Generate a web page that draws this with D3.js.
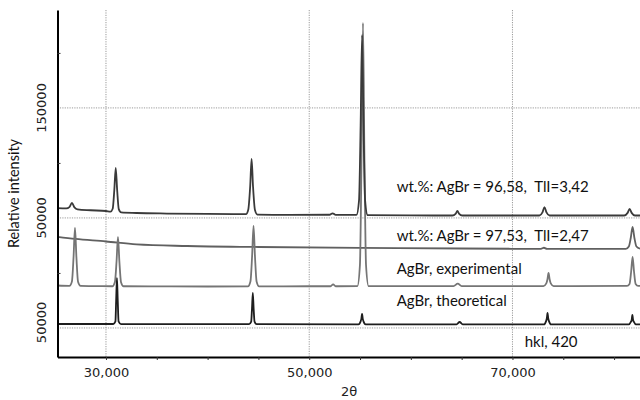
<!DOCTYPE html>
<html>
<head>
<meta charset="utf-8">
<script src="https://cdn.jsdelivr.net/npm/d3@7"></script>
<style>
  body { margin: 0; background: #fff; }
  svg { display: block; }
</style>
</head>
<body>
<div id="chart"></div>
<script>
// XRD patterns, stacked. Points are [2theta, intensity on the stacked y axis].
const sample9658 = [
  [25.23,159000],[26.1,158600],[26.4,159800],[26.65,163600],[26.9,159600],[27.2,157800],
  [28.5,157000],[30.0,156300],[30.45,155700],[30.66,158300],[30.82,175400],[30.96,195400],
  [31.1,175400],[31.26,158000],[31.5,155000],[33.0,154500],[36.0,154000],[40.0,153600],
  [43.78,153400],[44.0,157400],[44.19,178600],[44.33,203600],[44.47,178600],[44.66,157200],
  [44.9,153100],[48.0,152800],[52.0,152900],[52.3,154200],[52.6,152800],[54.65,152700],
  [54.9,165800],[55.06,234500],[55.2,316300],[55.34,234500],[55.5,165800],[55.75,152500],
  [60.0,152300],[64.1,152200],[64.4,153700],[64.58,156300],[64.76,153700],[65.05,152200],
  [72.65,152200],[72.95,155000],[73.15,159900],[73.35,155000],[73.65,152200],[81.0,152200],
  [81.33,154600],[81.53,158100],[81.73,154600],[82.05,152200],[82.55,152200]
];
const sample9753 = [
  [25.23,132700],[27.0,130900],[30.0,128600],[33.0,125900],[38.0,124500],[45.0,123600],
  [55.0,122700],[65.0,122200],[72.8,121900],[73.1,122900],[73.4,121800],[75.0,121800],
  [81.15,121800],[81.45,124000],[81.64,131800],[81.82,141800],[82.0,131800],[82.2,124000],
  [82.55,122000]
];
const agbrExperimental = [
  [25.23,88600],[26.4,88300],[26.65,92300],[26.81,114500],[26.95,140900],[27.09,114500],
  [27.25,92000],[27.5,88200],[29.0,88000],[30.63,87900],[30.88,91800],[31.04,110400],
  [31.18,132700],[31.32,110400],[31.48,91600],[31.73,87900],[36.0,87800],[40.0,87700],
  [43.97,87800],[44.22,92500],[44.38,115400],[44.52,142700],[44.66,115400],[44.82,92300],
  [45.07,87800],[50.0,87900],[52.1,87900],[52.35,89700],[52.6,87900],[54.74,88000],
  [54.99,107200],[55.15,207700],[55.29,327200],[55.43,207700],[55.59,107200],[55.84,88000],
  [60.0,88000],[64.2,88100],[64.62,90300],[65.0,88100],[73.05,88100],[73.33,90500],
  [73.44,94100],[73.55,100000],[73.66,94100],[73.77,90500],[74.05,88100],[81.27,88200],
  [81.52,90000],[81.68,101300],[81.82,114500],[81.96,101300],[82.12,90000],[82.37,88200],
  [82.55,88200]
];
const agbrTheoretical = [
  [25.23,53600],[30.72,53600],[30.93,56000],[31.0,74500],[31.08,95400],[31.16,74500],
  [31.24,56000],[31.48,53500],[44.08,53400],[44.29,55800],[44.37,67700],[44.45,81800],
  [44.53,67700],[44.62,55800],[44.82,53400],[54.85,53300],[55.06,56000],[55.13,58200],
  [55.2,62700],[55.27,58200],[55.34,56000],[55.55,53300],[64.5,53300],[64.8,55400],
  [65.1,53300],[73.1,53200],[73.3,56000],[73.38,58600],[73.45,63600],[73.52,58600],
  [73.6,56000],[73.8,53200],[81.45,53200],[81.65,55500],[81.73,57200],[81.8,61800],
  [81.87,57200],[81.95,55500],[82.15,53200],[82.55,53200]
];

const xTicks = [30, 35, 40, 45, 50, 55, 60, 65, 70, 75, 80];
const xTickLabels = ["30,000", "", "", "", "50,000", "", "", "", "70,000", "", ""];
const xGridValues = [30, 50, 70];
const yGridValues = [50000, 150000, 250000];
const yMinorTicks = [100000, 200000, 300000];
const yTickLabels = ["50000", "50000", "150000"];
const yLabelValues = [55000, 150000, 250000];

const annotationTexts = ["wt.%: AgBr = 96,58,  TlI=3,42", "wt.%: AgBr = 97,53,  TlI=2,47",
  "AgBr, experimental", "AgBr, theoretical", "hkl, 420"];
const annotationX = [58.61, 58.61, 58.61, 58.61, 71.2];
const annotationY = [173600, 129100, 99100, 70000, 32700];

(function () {
  const width = 640, height = 400;
  const left = 57.5, right = 640, top = 10, bottom = 357;

  const svg = d3.select('#chart').append('svg')
    .attr('width', width).attr('height', height);

  const x = d3.scaleLinear().domain([25.23, 82.55]).range([left, right]);
  const y = d3.scaleLinear().domain([23600, 339000]).range([bottom, top]);

  // dotted grid
  const grid = svg.append('g').attr('stroke', '#9a9a9a').attr('stroke-width', 1)
    .attr('stroke-dasharray', '1.2,1.2').attr('fill', 'none');
  grid.selectAll('line.v').data(xGridValues).join('line').attr('class', 'v')
    .attr('x1', d => x(d)).attr('x2', d => x(d)).attr('y1', top).attr('y2', bottom);
  grid.selectAll('line.h').data(yGridValues).join('line').attr('class', 'h')
    .attr('x1', left).attr('x2', right).attr('y1', d => y(d)).attr('y2', d => y(d));

  // traces
  const line = d3.line().x(d => x(d[0])).y(d => y(d[1])).curve(d3.curveMonotoneX);
  const series = [
    { data: sample9753, color: '#606060' },
    { data: agbrExperimental, color: '#757575' },
    { data: agbrTheoretical, color: '#1e1e1e' },
    { data: sample9658, color: '#3a3a3a' }
  ];
  svg.append('g').selectAll('path').data(series).join('path')
    .attr('d', d => line(d.data))
    .attr('fill', 'none')
    .attr('stroke', d => d.color)
    .attr('stroke-width', 1.8)
    .attr('stroke-linejoin', 'round');

  // annotations
  svg.append('g').selectAll('text').data(annotationTexts).join('text')
    .attr('x', (d, i) => x(annotationX[i]))
    .attr('y', (d, i) => y(annotationY[i]))
    .style('white-space', 'pre')
    .attr('font-family', 'Lato, "Open Sans", sans-serif')
    .attr('font-size', 15)
    .attr('fill', '#111')
    .text(d => d);

  // x axis
  const xAxis = svg.append('g').attr('transform', `translate(0,${bottom})`)
    .call(d3.axisBottom(x).tickValues(xTicks).tickSize(3).tickSizeOuter(0)
      .tickFormat((d, i) => xTickLabels[i]));
  xAxis.select('.domain').attr('stroke', '#000').attr('stroke-width', 2);
  xAxis.selectAll('.tick line').attr('stroke', '#333');
  xAxis.selectAll('.tick text')
    .attr('font-family', '"DejaVu Sans", sans-serif').attr('font-size', 13)
    .attr('fill', '#222').attr('dy', '1.05em');

  // y axis (inward minor ticks, labels drawn rotated)
  const yAxis = svg.append('g').attr('transform', `translate(${left},0)`)
    .call(d3.axisLeft(y).tickValues(yMinorTicks).tickSize(-3).tickSizeOuter(0).tickFormat(''));
  yAxis.select('.domain').attr('stroke', '#000').attr('stroke-width', 2);
  yAxis.selectAll('.tick line').attr('stroke', '#333');

  svg.append('g').selectAll('text').data(yTickLabels).join('text')
    .attr('transform', (d, i) => `translate(46,${y(yLabelValues[i])}) rotate(-90)`)
    .attr('text-anchor', 'middle')
    .attr('font-family', '"DejaVu Sans", sans-serif')
    .attr('font-size', 13)
    .attr('fill', '#222')
    .text(d => d);

  svg.append('text')
    .attr('transform', `translate(19,${(top + bottom) / 2 + 10}) rotate(-90)`)
    .attr('text-anchor', 'middle')
    .attr('font-family', 'Lato, "Open Sans", sans-serif')
    .attr('font-size', 14.5)
    .attr('fill', '#111')
    .text('Relative intensity');

  svg.append('text')
    .attr('x', 349).attr('y', 396)
    .attr('text-anchor', 'middle')
    .attr('font-family', '"DejaVu Sans", sans-serif')
    .attr('font-size', 13)
    .attr('fill', '#222')
    .text('2θ');
})();
</script>
</body>
</html>
